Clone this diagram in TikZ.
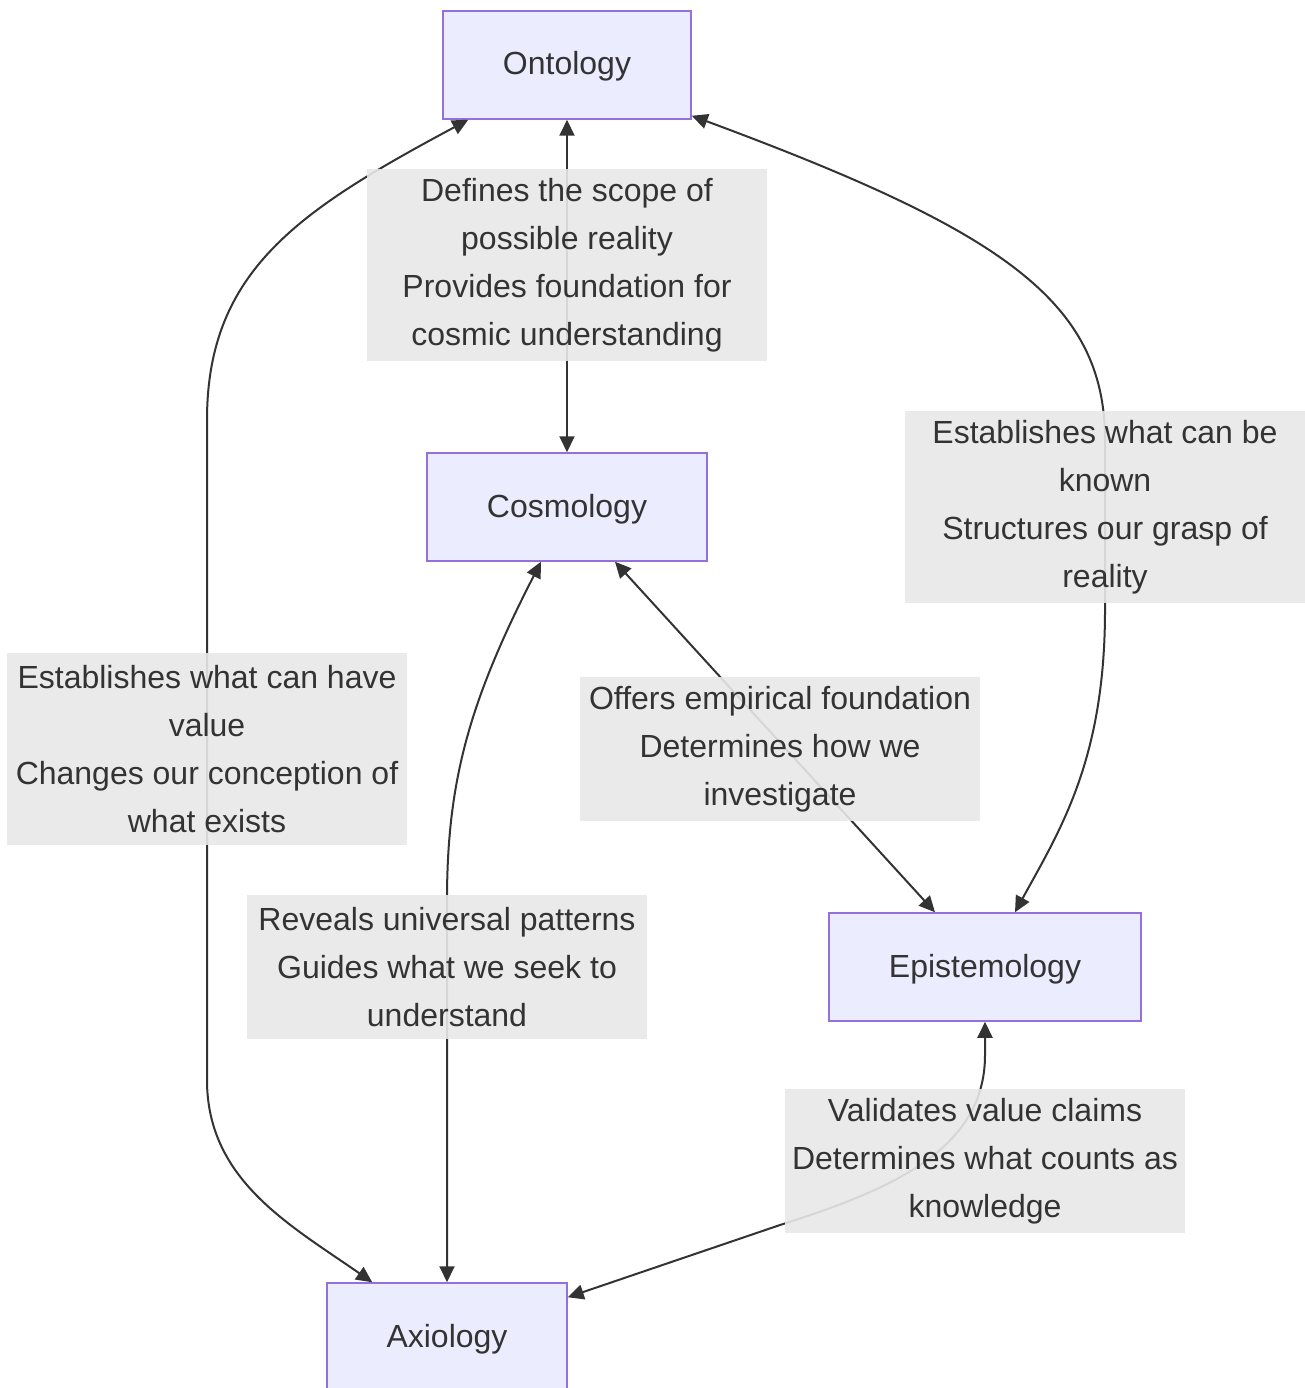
\documentclass[tikz,border=0pt]{standalone}
\usepackage{fontspec}
\setmainfont{Liberation Sans}
\usetikzlibrary{arrows.meta,positioning}
\definecolor{boxfill}{HTML}{ECECFF}
\definecolor{boxline}{HTML}{9370DB}
\definecolor{ink}{HTML}{333333}
\definecolor{lblfill}{HTML}{E8E8E8}

\begin{document}
\begin{tikzpicture}[x=1pt,y=-1pt,
concept/.style={draw=boxline,fill=boxfill,line width=1.5pt,text=ink,
  minimum height=108pt,inner sep=0pt,text height=23pt,text depth=3pt,
  font=\fontsize{32}{48}\selectfont},
lbl/.style={fill=lblfill,fill opacity=0.9,text opacity=1,text=ink,inner sep=0pt,
  minimum width=400pt,align=center,font=\fontsize{32}{48}\selectfont},
link/.style={draw=ink,line width=2pt,{Triangle[length=16pt,width=15pt]}-{Triangle[length=16pt,width=15pt]}}]
\useasboundingbox (0,0) rectangle (1305,1388);
\node[concept,minimum width=248pt] (ont) at (567,65) {Ontology};
\node[concept,minimum width=280pt] (cos) at (567,507) {Cosmology};
\node[concept,minimum width=312pt] (epi) at (985,967) {Epistemology};
\node[concept,minimum width=240pt] (axi) at (447,1337) {Axiology};
\draw[link] (ont.south)--(cos.north);
\draw[link] ([yshift=4pt]ont.south east) .. controls (1000,230) and (1105,300) .. (1105,440)
 -- (1105,610) .. controls (1105,760) and (1060,830) .. ([xshift=30pt]epi.north);
\draw[link] ([xshift=26pt]ont.south west) .. controls (300,210) and (207,270) .. (207,420)
 -- (207,1080) .. controls (207,1180) and (290,1225) .. ([xshift=46pt]axi.north west);
\draw[link] ([xshift=48pt]cos.south)--([xshift=-50pt]epi.north);
\draw[link] ([xshift=-26pt]cos.south) .. controls (470,700) and (447,780) .. (447,900)
 -- (axi.north);
\draw[link] (epi.south) -- (985,1055) .. controls (985,1150) and (890,1190) .. (780,1225)
 -- ([yshift=-15pt]axi.north east);
\node[lbl,minimum height=192pt] (l1) at (567,265) {Defines the scope of\\possible reality\\Provides foundation for\\cosmic understanding};
\node[lbl,minimum height=192pt] (l2) at (1105,507) {Establishes what can be\\known\\Structures our grasp of\\reality};
\node[lbl,minimum height=192pt] (l3) at (207,749) {Establishes what can have\\value\\Changes our conception of\\what exists};
\node[lbl,minimum height=144pt] (l4) at (780,749) {Offers empirical foundation\\Determines how we\\investigate};
\node[lbl,minimum height=144pt] (l5) at (447,967) {Reveals universal patterns\\Guides what we seek to\\understand};
\node[lbl,minimum height=144pt] (l6) at (985,1161) {Validates value claims\\Determines what counts as\\knowledge};
\end{tikzpicture}
\end{document}
